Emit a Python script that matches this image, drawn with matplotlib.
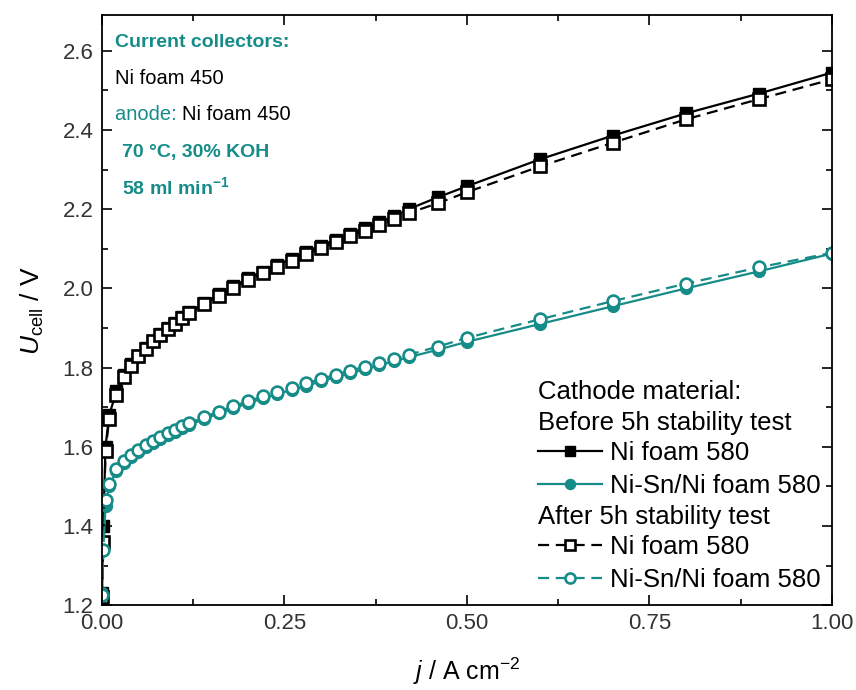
import matplotlib

matplotlib.use("Agg")
import matplotlib.pyplot as plt
from matplotlib.ticker import MultipleLocator

plt.rcParams["font.family"] = ["Liberation Sans", "DejaVu Sans"]
plt.rcParams["mathtext.fontset"] = "custom"
plt.rcParams["mathtext.rm"] = "Liberation Sans"
plt.rcParams["mathtext.it"] = "Liberation Sans:italic"
plt.rcParams["mathtext.bf"] = "Liberation Sans:bold"

TEAL = "#168c88"

# current density, A cm-2
j = [0.0, 0.002, 0.005, 0.01, 0.02, 0.03, 0.04, 0.05, 0.06, 0.07, 0.08, 0.09,
     0.10, 0.11, 0.12, 0.14, 0.16, 0.18, 0.20, 0.22, 0.24, 0.26, 0.28, 0.30, 0.32,
     0.34, 0.36, 0.38, 0.40, 0.42, 0.46, 0.50, 0.60, 0.70, 0.80, 0.90, 1.00]

# cell voltage, V
ni_before = [1.23, 1.40, 1.60, 1.68, 1.74, 1.78, 1.81, 1.83, 1.85, 1.868, 1.885, 1.90,
             1.913, 1.927, 1.94, 1.963, 1.985, 2.005, 2.025, 2.042, 2.058, 2.075, 2.092, 2.107,
             2.122, 2.138, 2.152, 2.167, 2.182, 2.20, 2.23, 2.258, 2.326, 2.386, 2.442, 2.492,
             2.545]
ni_after = [1.22, 1.36, 1.59, 1.67, 1.73, 1.775, 1.805, 1.828, 1.848, 1.866, 1.882, 1.897,
            1.91, 1.924, 1.937, 1.96, 1.982, 2.002, 2.021, 2.038, 2.054, 2.07, 2.087, 2.102,
            2.117, 2.132, 2.146, 2.16, 2.175, 2.19, 2.215, 2.243, 2.308, 2.368, 2.427, 2.478,
            2.528]
nisn_before = [1.23, 1.34, 1.45, 1.50, 1.54, 1.56, 1.575, 1.588, 1.60, 1.61, 1.62, 1.629,
               1.638, 1.647, 1.655, 1.67, 1.684, 1.697, 1.71, 1.722, 1.733, 1.744, 1.754, 1.765,
               1.776, 1.786, 1.796, 1.806, 1.816, 1.826, 1.845, 1.865, 1.91, 1.955, 2.0, 2.043,
               2.088]
nisn_after = [1.225, 1.34, 1.465, 1.505, 1.545, 1.565, 1.58, 1.593, 1.605, 1.615, 1.625, 1.634,
              1.643, 1.652, 1.66, 1.675, 1.689, 1.702, 1.715, 1.727, 1.738, 1.749, 1.76, 1.771,
              1.782, 1.792, 1.802, 1.812, 1.822, 1.832, 1.853, 1.875, 1.922, 1.968, 2.012, 2.053,
              2.09]

fig = plt.figure(figsize=(8.56, 6.90), dpi=100)
ax = fig.add_axes([0.119, 0.123, 0.853, 0.855])

ms = 8.5
h1, = ax.plot(j, ni_before, "-s", color="black", lw=1.6, ms=ms, mec="black", mfc="black")
h2, = ax.plot(j, nisn_before, "-o", color=TEAL, lw=1.6, ms=ms, mec=TEAL, mfc=TEAL)
h3, = ax.plot(j, ni_after, "--s", color="black", lw=1.6, ms=ms, mec="black", mfc="white",
              mew=1.9, dashes=(5, 3))
h4, = ax.plot(j, nisn_after, "--o", color=TEAL, lw=1.6, ms=ms, mec=TEAL, mfc="white",
              mew=1.9, dashes=(5, 3))

ax.set_xlim(0, 1.0)
ax.set_ylim(1.2, 2.69)
ax.xaxis.set_major_locator(MultipleLocator(0.25))
ax.xaxis.set_minor_locator(MultipleLocator(0.125))
ax.yaxis.set_major_locator(MultipleLocator(0.2))
ax.yaxis.set_minor_locator(MultipleLocator(0.1))
ax.xaxis.set_major_formatter(plt.FormatStrFormatter("%.2f"))
ax.yaxis.set_major_formatter(plt.FormatStrFormatter("%.1f"))
ax.tick_params(which="both", direction="in", top=True, right=True, width=1.2,
               labelsize=16, labelcolor="#333333", pad=6)
ax.tick_params(which="major", length=7)
ax.tick_params(which="minor", length=4)
for spine in ax.spines.values():
    spine.set_linewidth(1.3)

ax.set_xlabel(r"$j$ / A cm$^{-2}$", fontsize=18, labelpad=15)
ax.set_ylabel(r"$U_{\rm cell}$ / V", fontsize=19, labelpad=12)

# conditions box, top left
ax.text(0.018, 0.953, "Current collectors:", transform=ax.transAxes, fontsize=14,
        fontweight="bold", color=TEAL, va="center")
ax.text(0.018, 0.893, "Ni foam 450", transform=ax.transAxes, fontsize=14.5,
        color="black", va="center")
t = ax.text(0.018, 0.832, "anode: ", transform=ax.transAxes, fontsize=14.5,
            color=TEAL, va="center")
ax.annotate("Ni foam 450", xycoords=t, xy=(1, 0.5), va="center", fontsize=14.5,
            color="black")
ax.text(0.027, 0.768, "70 °C, 30% KOH", transform=ax.transAxes, fontsize=14,
        fontweight="bold", color=TEAL, va="center")
ax.text(0.027, 0.708, r"58 ml min$^{\mathbf{-1}}$", transform=ax.transAxes, fontsize=14,
        fontweight="bold", color=TEAL, va="center")

# legend with group headers
legx = 0.597
ax.text(legx, 0.361, "Cathode material:", transform=ax.transAxes, fontsize=18.5, va="center")
ax.text(legx, 0.308, "Before 5h stability test", transform=ax.transAxes, fontsize=18.5,
        va="center")
ax.text(legx, 0.149, "After 5h stability test", transform=ax.transAxes, fontsize=18.5,
        va="center")

leg_kw = dict(loc="center left", frameon=False, fontsize=18.5, handlelength=2.5,
              handletextpad=0.3, borderpad=0, borderaxespad=0, labelspacing=0.36,
              markerscale=0.85)
leg1 = ax.legend([h1, h2], ["Ni foam 580", "Ni-Sn/Ni foam 580"],
                 bbox_to_anchor=(legx, 0.230), **leg_kw)
ax.add_artist(leg1)
ax.legend([h3, h4], ["Ni foam 580", "Ni-Sn/Ni foam 580"],
          bbox_to_anchor=(legx, 0.070), **leg_kw)

fig.savefig("out.png", dpi=100)
